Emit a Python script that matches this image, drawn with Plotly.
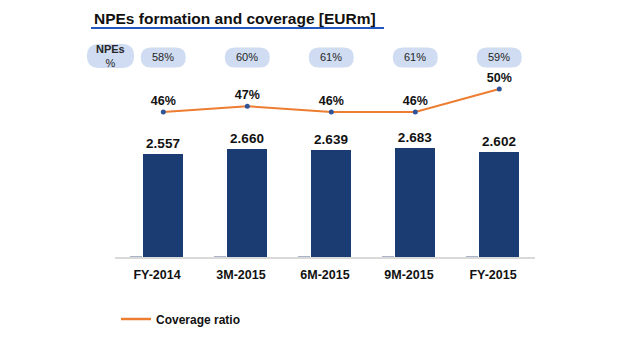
import plotly.graph_objects as go

W, H = 640, 350

periods = ["FY-2014", "3M-2015", "6M-2015", "9M-2015", "FY-2015"]
npe_stock = [2557, 2660, 2639, 2683, 2602]          # EURm
npe_stock_labels = ["2.557", "2.660", "2.639", "2.683", "2.602"]
minor_series = [35, 35, 35, 35, 35]                  # small grey stub series
coverage_ratio = [46, 47, 46, 46, 50]                # %
npe_ratio = [58, 60, 61, 61, 59]                     # %

FONT = "Liberation Sans, Arial, sans-serif"
BLUE = "#1b3c73"
ORANGE = "#ed7d31"
PILL = "#cfdcf1"

def py(p):  # pixel-from-top -> paper y
    return 1 - p / H

fig = go.Figure()

fig.add_trace(go.Bar(
    x=periods, y=minor_series, marker_color="#a9b3c6", marker_line_width=0,
    offset=-0.32, width=0.14, showlegend=False, hoverinfo="skip",
))
fig.add_trace(go.Bar(
    x=periods, y=npe_stock, marker_color=BLUE, marker_line_width=0,
    offset=-0.165, width=0.476, showlegend=False,
    text=[f"<b>{t}</b>" for t in npe_stock_labels], textposition="outside",
    cliponaxis=False, constraintext="none",
    textfont=dict(family=FONT, size=13.5, color="#111111"),
))
fig.add_trace(go.Scatter(
    x=list(range(len(periods))), y=coverage_ratio, xaxis="x2", yaxis="y2",
    mode="lines+markers+text", showlegend=False,
    line=dict(color=ORANGE, width=2),
    marker=dict(color="#2f5597", size=5),
    text=[f"<b>{v}%</b>" for v in coverage_ratio], textposition="top center",
    textfont=dict(family=FONT, size=12.5, color="#111111"),
    cliponaxis=False,
))
# legend entry (line only, as in the source legend)
fig.add_trace(go.Scatter(
    x=[None], y=[None], xaxis="x2", yaxis="y2", mode="lines",
    name="<b>Coverage ratio</b>", line=dict(color=ORANGE, width=2.5),
))

x_dom = [115 / W, 535 / W]
fig.update_layout(
    width=W, height=H, margin=dict(l=0, r=0, t=0, b=0),
    paper_bgcolor="white", plot_bgcolor="rgba(0,0,0,0)",
    barmode="overlay", bargap=0,
    font=dict(family=FONT, color="#111111"),
    xaxis=dict(domain=x_dom, range=[-0.5, 4.5], showline=True,
               linecolor="#d9d9d9", linewidth=1.5, showgrid=False,
               zeroline=False, ticks="", ticklabelstandoff=5,
               tickvals=periods, ticktext=[f"<b>{p}</b>" for p in periods],
               tickfont=dict(family=FONT, size=12.5, color="#111111")),
    yaxis=dict(domain=[py(257), py(257 - 4000 * 0.0406)], range=[0, 4000],
               visible=False, showgrid=False),
    xaxis2=dict(domain=x_dom, range=[-0.575, 4.425], overlaying="x",
                anchor="y2", visible=False),
    yaxis2=dict(domain=[py(146.5), py(77.5)], range=[40, 52],
                anchor="x2", visible=False),
    showlegend=True,
    legend=dict(x=116 / W, y=py(319), xanchor="left", yanchor="middle",
                font=dict(family=FONT, size=12, color="#111111"),
                bgcolor="rgba(0,0,0,0)"),
)

def pill_path(w, h):
    r = h / 2
    hw = w / 2
    return (f"M{-hw + r},{-r} L{hw - r},{-r} Q{hw},{-r} {hw},0 "
            f"Q{hw},{r} {hw - r},{r} L{-hw + r},{r} Q{-hw},{r} {-hw},0 "
            f"Q{-hw},{-r} {-hw + r},{-r} Z")

shapes = []
annotations = []
# header pill
shapes.append(dict(type="path", xref="paper", yref="paper",
                   xsizemode="pixel", ysizemode="pixel",
                   xanchor=110.5 / W, yanchor=py(56),
                   path=pill_path(47, 24), fillcolor=PILL, line_width=0, layer="below"))
annotations.append(dict(xref="paper", yref="paper", x=110.5 / W, y=py(56),
                        text="<b>NPEs</b><br>%", showarrow=False,
                        font=dict(family=FONT, size=11, color="#262626"),
                        xanchor="center", yanchor="middle"))
for i, v in enumerate(npe_ratio):
    shapes.append(dict(type="path", xref="x2", yref="paper",
                       xsizemode="pixel", ysizemode="pixel",
                       xanchor=i, yanchor=py(57.5),
                       path=pill_path(45, 20), fillcolor=PILL, line_width=0, layer="below"))
    annotations.append(dict(xref="x2", yref="paper", x=i, y=py(57.5),
                            text=f"{v}%", showarrow=False,
                            font=dict(family=FONT, size=11, color="#262626"),
                            xanchor="center", yanchor="middle"))

# title + underline
annotations.append(dict(xref="paper", yref="paper", x=92 / W, y=py(18.5),
                        text="<b>NPEs formation and coverage [EURm]</b>",
                        showarrow=False, xanchor="left", yanchor="middle",
                        font=dict(family=FONT, size=15.5, color="#111111")))
shapes.append(dict(type="line", xref="paper", yref="paper",
                   x0=91 / W, x1=384 / W, y0=py(28), y1=py(28),
                   line=dict(color="#2456c0", width=2)))

fig.update_layout(shapes=shapes, annotations=annotations)
fig.write_html("out.html")
